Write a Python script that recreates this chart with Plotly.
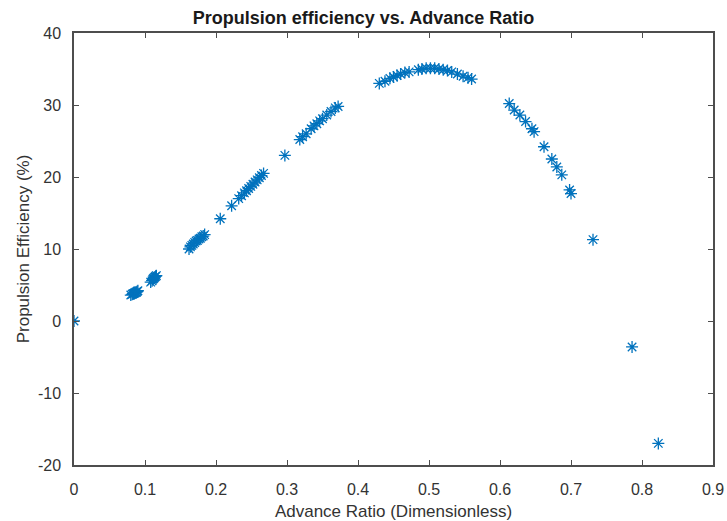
import plotly.graph_objects as go

advance_ratio = [
    0.0,
    0.080, 0.082, 0.083, 0.084, 0.085, 0.086, 0.087, 0.088, 0.089, 0.090,
    0.108, 0.110, 0.111, 0.112, 0.113, 0.114, 0.115, 0.116,
    0.162, 0.164, 0.166, 0.168, 0.170, 0.172, 0.174, 0.176, 0.178, 0.180, 0.182, 0.184,
    0.206, 0.222,
    0.232, 0.236, 0.240, 0.243, 0.246, 0.249, 0.252, 0.255, 0.258, 0.261, 0.264, 0.267,
    0.297,
    0.318, 0.322, 0.327, 0.334, 0.338, 0.342, 0.346, 0.350, 0.356, 0.362, 0.368, 0.372,
    0.430, 0.438, 0.445, 0.450, 0.455, 0.460, 0.466, 0.472, 0.485, 0.490, 0.496,
    0.502, 0.508, 0.514, 0.520, 0.526, 0.532, 0.540, 0.548, 0.555, 0.560,
    0.613, 0.620, 0.628, 0.636, 0.645, 0.648, 0.662, 0.673, 0.680, 0.687, 0.698, 0.700,
    0.731, 0.786, 0.823,
]
efficiency = [
    0.0,
    3.6, 3.7, 3.8, 3.8, 3.9, 3.9, 4.0, 4.0, 4.1, 4.2,
    5.4, 5.6, 5.8, 5.9, 6.0, 6.1, 6.2, 6.3,
    10.0, 10.3, 10.5, 10.7, 10.9, 11.1, 11.2, 11.4, 11.5, 11.7, 11.8, 12.0,
    14.2, 16.0,
    17.0, 17.4, 17.8, 18.1, 18.4, 18.7, 19.0, 19.3, 19.6, 19.9, 20.2, 20.5,
    23.0,
    25.2, 25.6, 26.0, 26.7, 27.1, 27.4, 27.8, 28.1, 28.6, 29.1, 29.6, 29.8,
    33.0, 33.3, 33.7, 33.9, 34.1, 34.3, 34.5, 34.6, 34.9, 35.0, 35.1,
    35.1, 35.1, 35.0, 34.9, 34.8, 34.6, 34.3, 34.0, 33.8, 33.6,
    30.2, 29.3, 28.6, 27.7, 26.7, 26.3, 24.2, 22.5, 21.4, 20.3, 18.2, 17.7,
    11.3, -3.6, -17.0,
]
x_ticks = [0, 0.1, 0.2, 0.3, 0.4, 0.5, 0.6, 0.7, 0.8, 0.9]
x_tick_labels = ["0", "0.1", "0.2", "0.3", "0.4", "0.5", "0.6", "0.7", "0.8", "0.9"]
y_ticks = [-20, -10, 0, 10, 20, 30, 40]
y_tick_labels = ["-20", "-10", "0", "10", "20", "30", "40"]

fig = go.Figure()
fig.add_trace(go.Scatter(
    x=advance_ratio, y=efficiency, mode="markers",
    marker=dict(symbol="asterisk-open", size=10, color="#0072BD",
                line=dict(color="#0072BD", width=1.3)),
    showlegend=False,
))

axis_common = dict(
    showgrid=False, zeroline=False, showline=True, mirror="ticks",
    linecolor="#4d4d4d", linewidth=1.5, ticks="inside", ticklen=5,
    tickcolor="#4d4d4d", tickfont=dict(size=16, color="#333333"),
    automargin=False,
)
fig.update_layout(
    width=727, height=521,
    margin=dict(l=74, r=14, t=33, b=56),
    paper_bgcolor="white", plot_bgcolor="white",
    font=dict(family="Liberation Sans, Arial, sans-serif", color="#333333"),
    title=dict(text="<b>Propulsion efficiency vs. Advance Ratio</b>",
               x=0.5, xanchor="center", y=0.978, yanchor="top",
               font=dict(size=18, color="#1a1a1a")),
    xaxis=dict(range=[0, 0.9], tickvals=x_ticks, ticktext=x_tick_labels,
               ticklabelstandoff=9,
               title=dict(text="Advance Ratio (Dimensionless)", font=dict(size=17), standoff=8),
               **axis_common),
    yaxis=dict(range=[-20, 40], tickvals=y_ticks, ticktext=y_tick_labels,
               ticklabelstandoff=8,
               title=dict(text="Propulsion Efficiency (%)", font=dict(size=17), standoff=4),
               **axis_common),
)
fig.write_html("out.html")
